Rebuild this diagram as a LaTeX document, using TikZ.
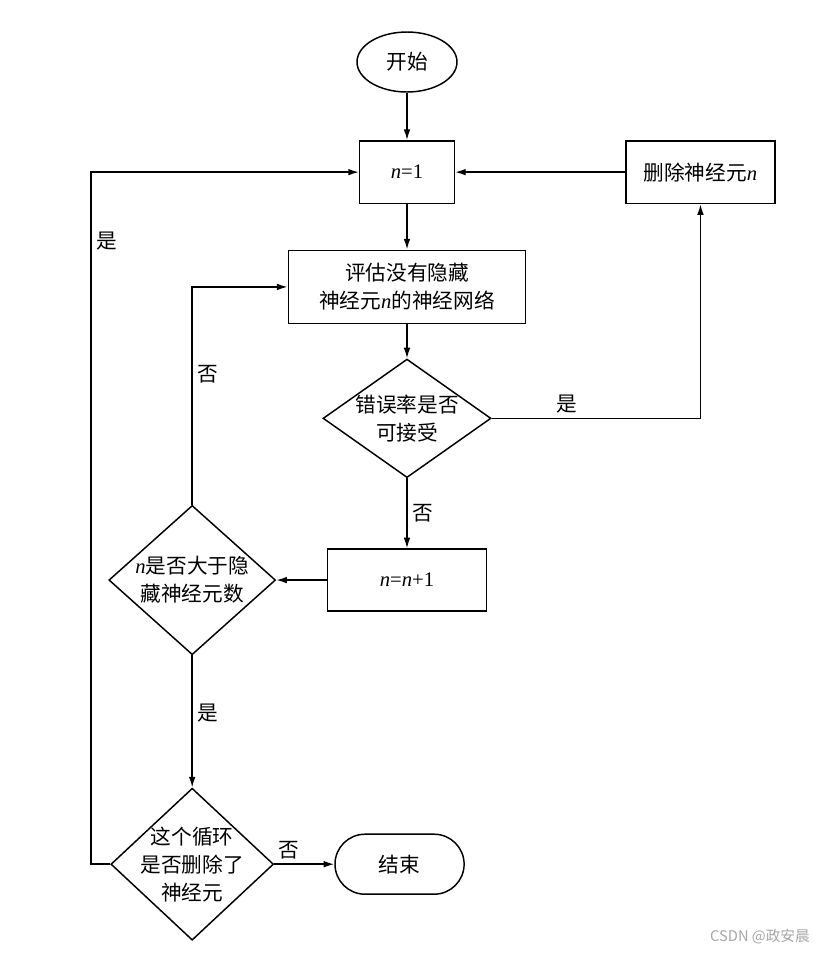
\documentclass[tikz,border=0pt]{standalone}
\usepackage{fontspec}
\setmainfont{Liberation Serif}
\newfontfamily\cjk{Noto Sans CJK SC}
\usepackage{tikz}
\usetikzlibrary{shapes,arrows.meta,positioning}
\newcommand{\nvar}{\textrm{\textit{n}}}

\begin{document}
\begin{tikzpicture}[x=0.75pt, y=-0.75pt,
    font=\cjk\fontsize{15.5}{21}\selectfont,
    box/.style={draw, rectangle, line width=1.1pt, align=center},
    dec/.style={draw, diamond, line width=1.1pt, align=center, inner sep=-6pt},
    line/.style={line width=1.1pt, -{Latex[length=8pt,width=5pt]}},
    lbl/.style={font=\cjk\fontsize{15.5}{21}\selectfont}]
    \useasboundingbox (0,0) rectangle (825,954);

    \node [draw, ellipse, line width=1.1pt, minimum width=75pt, minimum height=45pt] (start) at (407,62) {开始};
    \node [box, below=35.5pt of start, minimum width=71pt, minimum height=47pt] (n1) {\textrm{\textit{n}=1}};
    \node [box, right=127.5pt of n1, minimum width=112pt, minimum height=47pt] (del) {删除神经元\nvar};
    \node [box, below=34pt of n1, minimum width=178pt, minimum height=55pt] (eval) {评估没有隐藏\\神经元\nvar 的神经网络};
    \node [dec, below=25.5pt of eval, minimum width=126pt, minimum height=87pt] (err) {错误率是否\\可接受};
    \node [box, below=52.5pt of err, minimum width=119pt, minimum height=46.5pt] (inc) {\textrm{\textit{n}=\textit{n}+1}};
    \node [dec, left=38pt of inc, minimum width=125pt, minimum height=112pt] (cmp) {\nvar 是否大于隐\\藏神经元数};
    \node [dec, below=99pt of cmp, minimum width=122pt, minimum height=114pt] (loop) {这个循环\\是否删除了\\神经元};
    \node [draw, rounded rectangle, line width=1.1pt, right=45pt of loop, minimum width=103.5pt, minimum height=45pt] (stop) {结束};
    \node [text=gray!70, font=\cjk\fontsize{11}{13}\selectfont] (mark) at (760,937) {CSDN @政安晨};

    \draw [line] (start) -- (n1);
    \draw [line] (n1) -- (eval);
    \draw [line] (eval) -- (err);
    \draw [line] (err) -- node [lbl, right] {否} (inc);
    \draw [line] (err.east) -| node [lbl, pos=0.18, above] {是} (del.south);
    \draw [line] (del) -- (n1);
    \draw [line] (inc) -- (cmp);
    \draw [line] (cmp.north) |- node [lbl, pos=0.3, right] {否} (eval.west);
    \draw [line] (cmp) -- node [lbl, pos=0.44, right] {是} (loop);
    \draw [line] (loop) -- node [lbl, pos=0.25, above] {否} (stop);
    \draw [line] (loop.west) -- ++(-19,0) |- node [lbl, pos=0.45, right] {是} (n1.west); % back to start of the loop

\end{tikzpicture}
\end{document}
